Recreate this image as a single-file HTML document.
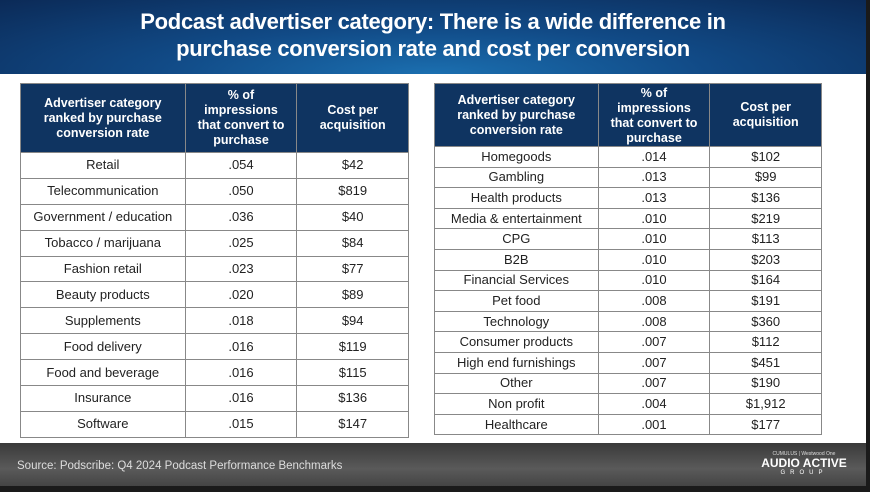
<!DOCTYPE html>
<html><head><meta charset="utf-8"><style>
body{margin:0;width:870px;height:492px;background:#1a1a1a;position:relative;overflow:hidden;font-family:"Liberation Sans",sans-serif}
#title{position:absolute;left:0;top:0;width:866px;height:74px;background:radial-gradient(ellipse at 50% 100%,#1b6fb0 0%,#114a86 45%,#0b2a57 100%);color:#fff;text-align:center;font-weight:bold;font-size:22px;line-height:27px;padding-top:8px;box-sizing:border-box;letter-spacing:-0.3px}
#white{position:absolute;left:0;top:74px;width:866px;height:369px;background:#fff}
#foot{position:absolute;left:0;top:443px;width:866px;height:43px;background:linear-gradient(180deg,#3a3a3a,#5a5a5a 60%,#444)}
#src{position:absolute;left:17px;top:460px;color:#ddd;font-size:11.5px}
#logo{position:absolute;left:754px;top:451px;color:#fff;text-align:center;width:100px}
table{position:absolute;border-collapse:collapse;font-size:13px;color:#222}
td,th{border:1px solid #888;text-align:center;padding:0;line-height:14px}
th{background:#0f3461;color:#fff;font-weight:bold;font-size:12.5px;line-height:15px;white-space:nowrap}
</style></head><body>
<div id="title">Podcast advertiser category: There is a wide difference in<br>purchase conversion rate and cost per conversion</div>
<div id="white"></div>
<table id="t1" style="left:20px;top:83px;width:389px">
<colgroup><col style="width:165px"><col style="width:112px"><col style="width:112px"></colgroup>
<tr style="height:69px"><th>Advertiser category<br>ranked by purchase<br>conversion rate</th><th>% of<br>impressions<br>that convert to<br>purchase</th><th>Cost per<br>acquisition</th></tr>
</table>
<table id="t2" style="left:434px;top:83px;width:388px">
<colgroup><col style="width:164px"><col style="width:112px"><col style="width:112px"></colgroup>
<tr style="height:63px"><th style="line-height:15px">Advertiser category<br>ranked by purchase<br>conversion rate</th><th style="line-height:15px;vertical-align:bottom">% of<br>impressions<br>that convert to<br>purchase</th><th>Cost per<br>acquisition</th></tr>
</table>
<div id="foot"></div>
<div id="src">Source: Podscribe: Q4 2024 Podcast Performance Benchmarks</div>
<div id="logo"><div style="font-size:5px;opacity:.8">CUMULUS | Westwood One</div><div style="font-weight:bold;font-size:12px;line-height:13px">AUDIO ACTIVE</div><div style="font-size:6px;letter-spacing:5px">GROUP</div></div>
<script>
const leftCats=["Retail","Telecommunication","Government / education","Tobacco / marijuana","Fashion retail","Beauty products","Supplements","Food delivery","Food and beverage","Insurance","Software"];
const leftRates=[".054",".050",".036",".025",".023",".020",".018",".016",".016",".016",".015"];
const leftCosts=["$42","$819","$40","$84","$77","$89","$94","$119","$115","$136","$147"];
const rightCats=["Homegoods","Gambling","Health products","Media & entertainment","CPG","B2B","Financial Services","Pet food","Technology","Consumer products","High end furnishings","Other","Non profit","Healthcare"];
const rightRates=[".014",".013",".013",".010",".010",".010",".010",".008",".008",".007",".007",".007",".004",".001"];
const rightCosts=["$102","$99","$136","$219","$113","$203","$164","$191","$360","$112","$451","$190","$1,912","$177"];
function fill(id,cats,rates,costs,h){
  const t=document.getElementById(id);
  cats.forEach((c,i)=>{
    const tr=document.createElement('tr');
    tr.style.height=h+'px';
    
    
    [c,rates[i],costs[i]].forEach(v=>{const td=document.createElement('td');td.textContent=v;
      
      
      tr.appendChild(td);});
    t.appendChild(tr);
  });
}
fill('t1',leftCats,leftRates,leftCosts,25.9);
fill('t2',rightCats,rightRates,rightCosts,20.6);
</script>
</body></html>
